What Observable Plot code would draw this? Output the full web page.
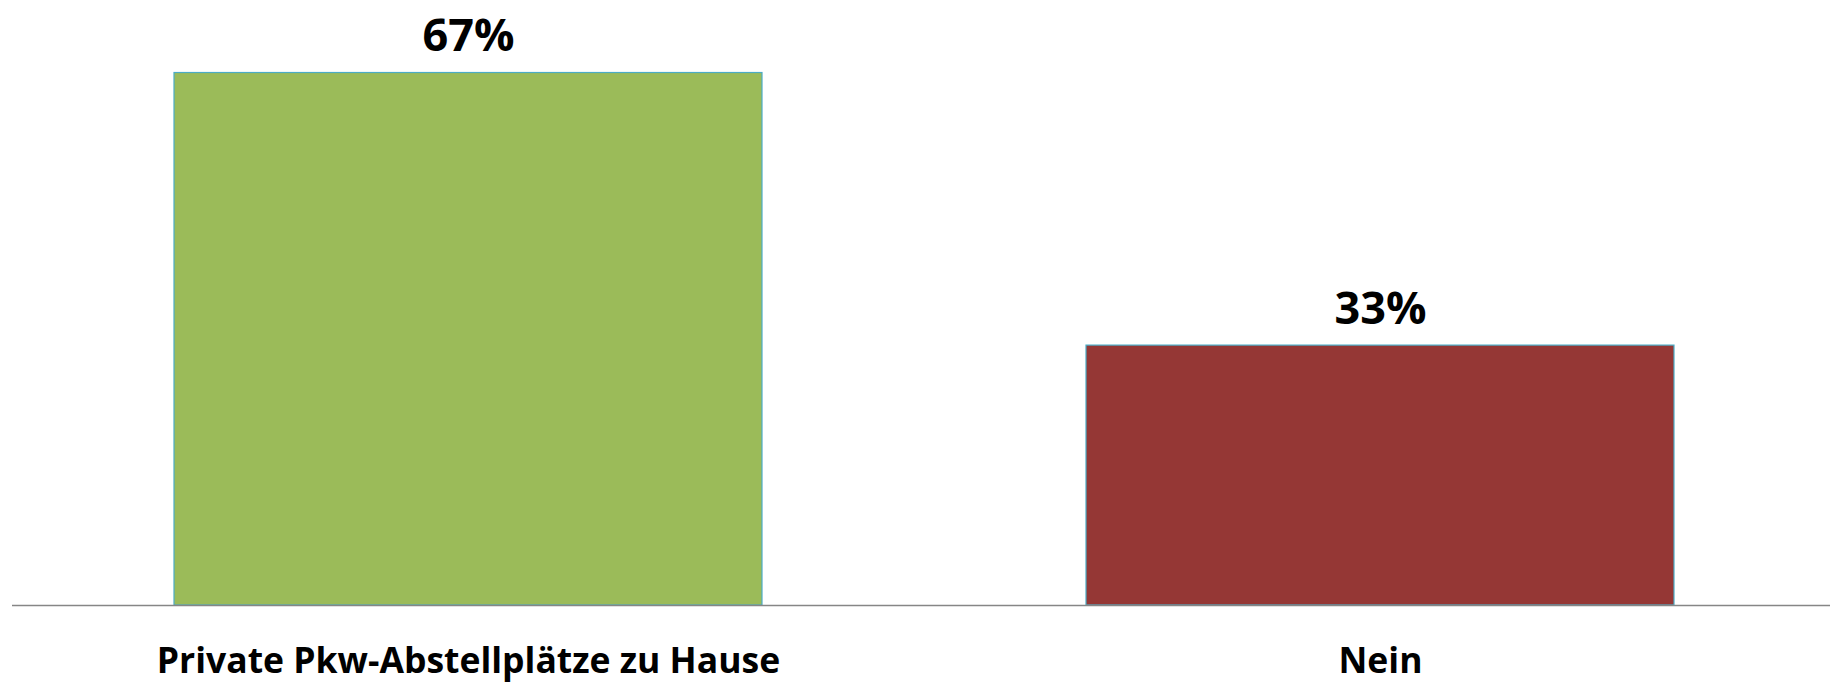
<!DOCTYPE html>
<html>
<head>
<meta charset="utf-8">
<script src="https://cdn.jsdelivr.net/npm/d3@7"></script>
<script src="https://cdn.jsdelivr.net/npm/@observablehq/plot@0.6"></script>
<style>
  html, body { margin: 0; padding: 0; background: #ffffff; }
  #chart svg { display: block; }
</style>
</head>
<body>
<div id="chart"></div>
<script>
const categories = ["Private Pkw-Abstellplätze zu Hause", "Nein"];
const values = [67.2, 32.8];
const valueLabels = ["67%", "33%"];
const colors = ["#9bbb59", "#953735"];

const data = categories.map((c, i) => ({category: c, value: values[i], label: valueLabels[i], color: colors[i]}));

const W = 1830, H = 684;
const baseY = 605;
const pxPerUnit = 7.924;

const chart = Plot.plot({
  width: W,
  height: H,
  marginTop: 0, marginBottom: 0, marginLeft: 0, marginRight: 0,
  style: {fontFamily: "'Open Sans', sans-serif", background: "#ffffff"},
  x: {domain: categories, range: [11.5, 1837], paddingInner: 0.355, paddingOuter: 0.1775, axis: null},
  y: {domain: [0, 80], range: [baseY, baseY - 80 * pxPerUnit], axis: null},
  marks: [
    Plot.barY(data, {x: "category", y: "value", fill: "color", stroke: "#4bacc6", strokeWidth: 1.2}),
    Plot.ruleY([0], {insetLeft: 12, stroke: "#868686", strokeWidth: 1.6}),
    Plot.text(data, {x: "category", y: "value", text: "label", lineAnchor: "bottom", dy: -22,
      fontSize: 45, fontWeight: "bold", fill: "#000000"}),
    Plot.text(data, {x: "category", y: 0, text: "category", lineAnchor: "top", dy: 42,
      fontSize: 35.5, fontWeight: "bold", fill: "#000000"})
  ]
});
document.getElementById("chart").appendChild(chart);
</script>
</body>
</html>
